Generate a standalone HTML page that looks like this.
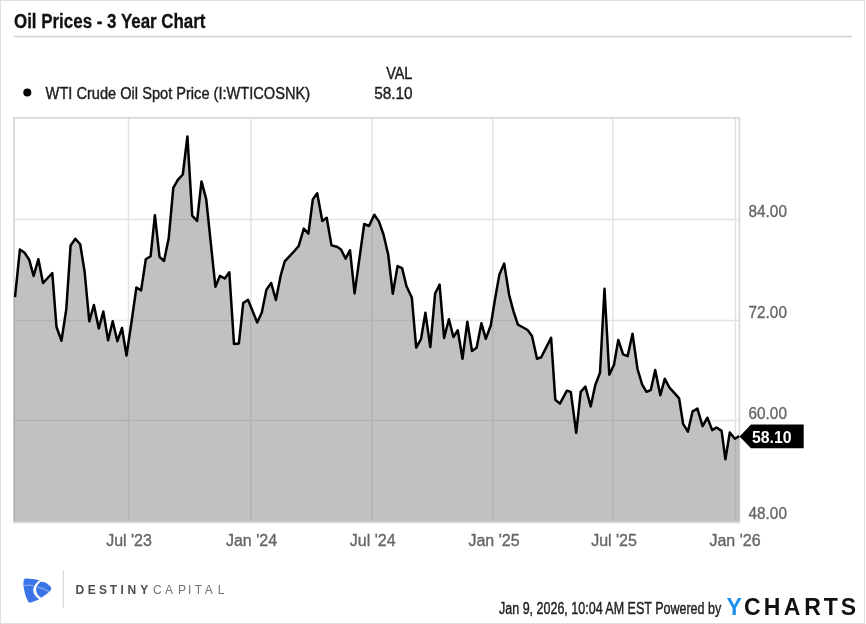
<!DOCTYPE html>
<html><head><meta charset="utf-8"><title>Oil Prices - 3 Year Chart</title>
<style>
html,body{margin:0;padding:0;background:#fff;width:866px;height:624px;overflow:hidden}
svg{position:absolute;left:0;top:0;will-change:transform}
text{font-family:"Liberation Sans",Arial,sans-serif}
</style></head><body>
<svg width="866" height="624" viewBox="0 0 866 624">
<!-- outer frame -->
<rect x="0.5" y="0.5" width="864" height="623" fill="#fff" stroke="#e0e0e0" stroke-width="1"/>
<!-- title -->
<text id="title" x="14" y="28.4" font-size="20" font-weight="bold" fill="#111" stroke="#111" stroke-width="0.3" textLength="191.5" lengthAdjust="spacingAndGlyphs">Oil Prices - 3 Year Chart</text>
<line x1="14" y1="36.5" x2="852" y2="36.5" stroke="#d0d0d0" stroke-width="1.4"/>
<!-- legend -->
<circle cx="27.3" cy="92.4" r="4" fill="#000"/>
<text id="leg" x="45.6" y="99" font-size="16" fill="#1e1e1e" stroke="#1e1e1e" stroke-width="0.4" textLength="264.5" lengthAdjust="spacingAndGlyphs">WTI Crude Oil Spot Price (I:WTICOSNK)</text>
<text id="val" x="386.2" y="78.9" font-size="16" fill="#1e1e1e" stroke="#1e1e1e" stroke-width="0.4" textLength="26.2" lengthAdjust="spacingAndGlyphs">VAL</text>
<text id="v58" x="374.2" y="99.2" font-size="16" fill="#1e1e1e" stroke="#1e1e1e" stroke-width="0.4" textLength="38.4" lengthAdjust="spacingAndGlyphs">58.10</text>
<!-- plot -->
<g stroke="#e3e3e3" stroke-width="1.5">
<line x1="128.5" y1="118" x2="128.5" y2="522"/>
<line x1="250.8" y1="118" x2="250.8" y2="522"/>
<line x1="371.9" y1="118" x2="371.9" y2="522"/>
<line x1="492.9" y1="118" x2="492.9" y2="522"/>
<line x1="612.8" y1="118" x2="612.8" y2="522"/>
<line x1="735.4" y1="118" x2="735.4" y2="522"/>
<line x1="14" y1="219.4" x2="739" y2="219.4"/>
<line x1="14" y1="320.5" x2="739" y2="320.5"/>
<line x1="14" y1="420.5" x2="739" y2="420.5"/>
</g>
<rect x="14" y="117.9" width="725.4" height="404" fill="none" stroke="#d8d8d8" stroke-width="1.7"/>
<path d="M13.6,297.2 L15.0,297.2 L19.9,249.6 L24.4,252.5 L29.2,259.7 L33.6,276.0 L38.4,259.2 L43.0,283.1 L47.7,278.0 L52.3,273.2 L56.5,327.0 L61.5,340.8 L66.3,309.0 L70.6,245.4 L75.4,238.7 L80.2,244.2 L84.6,271.5 L89.3,321.3 L93.9,305.0 L98.8,328.5 L103.3,311.5 L108.1,340.3 L112.7,321.3 L117.4,341.2 L122.0,328.0 L126.5,355.5 L131.5,322.0 L136.4,287.5 L141.1,290.4 L145.8,259.3 L150.6,256.3 L154.9,215.2 L159.5,256.9 L164.0,261.0 L168.7,238.3 L173.3,187.8 L177.8,179.8 L182.8,174.5 L187.4,136.4 L192.2,215.6 L197.1,221.0 L201.5,181.4 L206.2,199.1 L210.8,243.0 L215.4,286.8 L219.9,275.9 L224.8,278.5 L229.3,272.2 L234.0,343.9 L238.9,343.4 L243.2,303.1 L248.0,299.7 L252.6,311.0 L257.2,322.5 L261.8,312.5 L266.4,289.8 L271.2,283.0 L275.9,300.0 L280.7,275.5 L284.7,261.4 L289.6,256.2 L294.4,251.0 L298.7,246.0 L303.8,228.6 L308.4,233.6 L312.8,199.4 L317.2,193.2 L322.3,220.9 L326.7,217.8 L331.5,245.4 L337.0,246.7 L341.0,249.5 L345.6,258.6 L350.0,250.2 L354.6,293.4 L359.4,258.7 L364.2,224.0 L369.0,226.0 L374.3,214.7 L379.0,221.6 L383.5,234.5 L388.2,254.5 L392.8,293.8 L397.5,266.1 L402.1,268.1 L406.5,286.3 L411.8,297.5 L416.2,347.6 L421.0,339.1 L425.4,312.7 L430.3,347.1 L435.1,293.5 L439.6,284.6 L444.1,338.0 L448.9,319.3 L453.4,337.0 L457.8,330.3 L462.5,358.8 L467.3,321.8 L472.0,351.0 L476.6,347.8 L481.4,323.2 L485.8,338.8 L490.8,325.2 L495.2,298.0 L499.4,274.4 L504.2,263.6 L509.1,294.7 L513.5,311.4 L517.9,324.7 L522.3,327.0 L527.6,330.0 L532.0,336.1 L537.0,358.7 L541.2,357.3 L546.1,347.6 L551.1,337.7 L555.3,399.7 L559.9,403.6 L566.9,390.7 L570.8,391.9 L576.2,432.8 L580.7,391.9 L585.4,386.6 L590.7,406.4 L595.3,385.0 L600.0,372.8 L604.5,288.8 L609.3,374.6 L614.0,364.7 L618.3,339.9 L623.1,354.3 L627.6,356.2 L632.5,333.7 L637.5,369.0 L642.2,384.7 L646.5,391.8 L650.8,390.0 L655.2,370.0 L660.3,395.2 L664.8,378.8 L669.5,387.7 L674.3,392.9 L679.1,398.3 L683.1,423.8 L687.9,431.6 L692.6,411.3 L697.4,408.6 L702.6,426.2 L707.4,417.7 L712.2,430.1 L716.4,427.5 L721.6,430.9 L725.4,459.3 L729.8,432.5 L734.9,438.7 L739.2,436.1 L739.2,522 L13.6,522 Z" fill="#767676" fill-opacity="0.45"/>
<line x1="13.2" y1="522.2" x2="740.2" y2="522.2" stroke="#dadada" stroke-width="1.9"/>
<path d="M15.0,297.2 L19.9,249.6 L24.4,252.5 L29.2,259.7 L33.6,276.0 L38.4,259.2 L43.0,283.1 L47.7,278.0 L52.3,273.2 L56.5,327.0 L61.5,340.8 L66.3,309.0 L70.6,245.4 L75.4,238.7 L80.2,244.2 L84.6,271.5 L89.3,321.3 L93.9,305.0 L98.8,328.5 L103.3,311.5 L108.1,340.3 L112.7,321.3 L117.4,341.2 L122.0,328.0 L126.5,355.5 L131.5,322.0 L136.4,287.5 L141.1,290.4 L145.8,259.3 L150.6,256.3 L154.9,215.2 L159.5,256.9 L164.0,261.0 L168.7,238.3 L173.3,187.8 L177.8,179.8 L182.8,174.5 L187.4,136.4 L192.2,215.6 L197.1,221.0 L201.5,181.4 L206.2,199.1 L210.8,243.0 L215.4,286.8 L219.9,275.9 L224.8,278.5 L229.3,272.2 L234.0,343.9 L238.9,343.4 L243.2,303.1 L248.0,299.7 L252.6,311.0 L257.2,322.5 L261.8,312.5 L266.4,289.8 L271.2,283.0 L275.9,300.0 L280.7,275.5 L284.7,261.4 L289.6,256.2 L294.4,251.0 L298.7,246.0 L303.8,228.6 L308.4,233.6 L312.8,199.4 L317.2,193.2 L322.3,220.9 L326.7,217.8 L331.5,245.4 L337.0,246.7 L341.0,249.5 L345.6,258.6 L350.0,250.2 L354.6,293.4 L359.4,258.7 L364.2,224.0 L369.0,226.0 L374.3,214.7 L379.0,221.6 L383.5,234.5 L388.2,254.5 L392.8,293.8 L397.5,266.1 L402.1,268.1 L406.5,286.3 L411.8,297.5 L416.2,347.6 L421.0,339.1 L425.4,312.7 L430.3,347.1 L435.1,293.5 L439.6,284.6 L444.1,338.0 L448.9,319.3 L453.4,337.0 L457.8,330.3 L462.5,358.8 L467.3,321.8 L472.0,351.0 L476.6,347.8 L481.4,323.2 L485.8,338.8 L490.8,325.2 L495.2,298.0 L499.4,274.4 L504.2,263.6 L509.1,294.7 L513.5,311.4 L517.9,324.7 L522.3,327.0 L527.6,330.0 L532.0,336.1 L537.0,358.7 L541.2,357.3 L546.1,347.6 L551.1,337.7 L555.3,399.7 L559.9,403.6 L566.9,390.7 L570.8,391.9 L576.2,432.8 L580.7,391.9 L585.4,386.6 L590.7,406.4 L595.3,385.0 L600.0,372.8 L604.5,288.8 L609.3,374.6 L614.0,364.7 L618.3,339.9 L623.1,354.3 L627.6,356.2 L632.5,333.7 L637.5,369.0 L642.2,384.7 L646.5,391.8 L650.8,390.0 L655.2,370.0 L660.3,395.2 L664.8,378.8 L669.5,387.7 L674.3,392.9 L679.1,398.3 L683.1,423.8 L687.9,431.6 L692.6,411.3 L697.4,408.6 L702.6,426.2 L707.4,417.7 L712.2,430.1 L716.4,427.5 L721.6,430.9 L725.4,459.3 L729.8,432.5 L734.9,438.7 L739.2,436.1" fill="none" stroke="#000" stroke-width="2.5" stroke-linejoin="round" stroke-linecap="butt"/>
<!-- y labels -->
<g font-size="16" fill="#666" stroke="#666" stroke-width="0.35">
<text id="y84" x="748.6" y="217" textLength="38.3" lengthAdjust="spacingAndGlyphs">84.00</text>
<text id="y72" x="748.6" y="318.2" textLength="38.3" lengthAdjust="spacingAndGlyphs">72.00</text>
<text id="y60" x="748.6" y="418.5" textLength="38.3" lengthAdjust="spacingAndGlyphs">60.00</text>
<text id="y48" x="748.6" y="519.3" textLength="38.3" lengthAdjust="spacingAndGlyphs">48.00</text>
</g>
<!-- x labels -->
<g font-size="16" fill="#666" stroke="#666" stroke-width="0.35" text-anchor="middle">
<text id="xJul23" x="129" y="546.4">Jul '23</text>
<text x="251.5" y="546.4">Jan '24</text>
<text x="372.7" y="546.4">Jul '24</text>
<text x="494" y="546.4">Jan '25</text>
<text x="614" y="546.4">Jul '25</text>
<text x="735" y="546.4">Jan '26</text>
</g>
<!-- last value tag -->
<path d="M739.6,436.4 L751,424.6 L803.7,424.6 L803.7,448.2 L751,448.2 Z" fill="#000"/>
<text id="tag" x="751.9" y="442.5" font-size="16.5" font-weight="bold" fill="#fff" textLength="39.6" lengthAdjust="spacingAndGlyphs">58.10</text>
<!-- footer logo -->
<g fill="#3b74e6">
<path d="M26,578.6 C30,578.8 35,579.4 39.3,580.3 C36.2,582.6 33.6,586 33.2,589.4 C32.9,593 35.3,596.8 39.4,599.2 C36.5,600.6 33.6,601.7 31,602.4 C29.7,602.8 28.6,602.3 28,601.2 C26,597.4 24.5,592.5 23.7,587.4 C23.3,584.5 23.3,582 23.7,580.3 C24.1,579.1 24.9,578.6 26,578.6 Z"/>
<path d="M40.3,581.9 C42.8,581.7 45.6,582.6 48,584.2 L50.4,586.4 C51.6,587.6 51.5,589.6 50.3,590.7 C47.6,593.2 44.6,595.6 41.2,597.8 C38.2,596 36.2,593.2 36.1,590.1 C36,587 37.6,584 40.3,581.9 Z"/>
</g>
<path d="M23.5,585.7 C27,585 30.8,585 33.3,585.7 M36.4,586.9 C40.8,587.5 45,589.2 48.8,591.5" fill="none" stroke="#86a9f2" stroke-width="1.1"/>
<line x1="63.3" y1="570.6" x2="63.3" y2="607.8" stroke="#d2d2d2" stroke-width="1.1"/>
<text id="destiny" x="75.4 87.8 98.95 109.77 120.6 127.6 140.19" y="593.7" font-size="12" font-weight="bold" fill="#4d4d4f">DESTINY</text>
<text id="capital" x="152.89 165.08 177.92 187.99 194.83 204.78 217.72" y="593.7" font-size="12" fill="#737375">CAPITAL</text>
<!-- footer right -->
<text id="foot" x="499" y="613.5" font-size="16" fill="#222" stroke="#222" stroke-width="0.4" textLength="222.2" lengthAdjust="spacingAndGlyphs">Jan 9, 2026, 10:04 AM EST Powered by</text>
<text id="ylogo" x="726.41" y="615" font-size="23" font-weight="bold" fill="#2190ee">Y</text>
<text id="charts" x="744.06 763.66 783.63 804.26 823.74 840.64" y="615" font-size="23" font-weight="bold" fill="#111">CHARTS</text>
</svg>
</body></html>
